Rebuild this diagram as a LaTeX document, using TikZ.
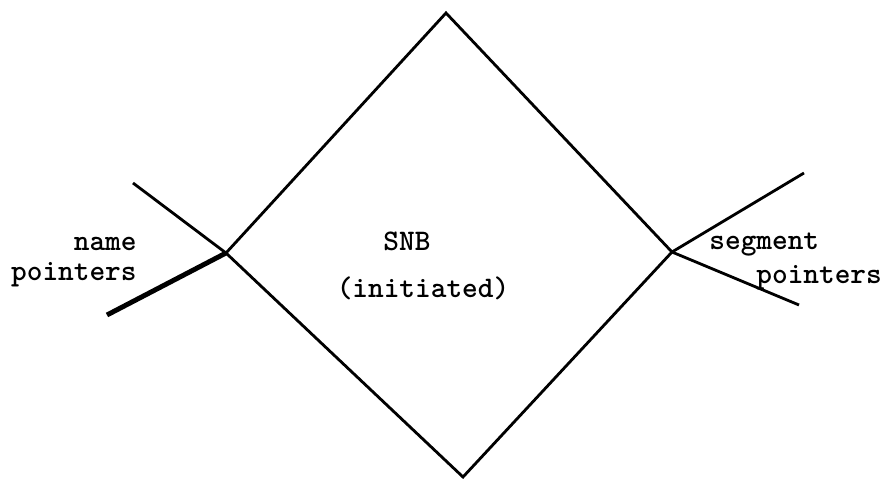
\documentclass[tikz,border=0pt]{standalone}
\begin{document}
\begin{tikzpicture}[x=0.02cm, y=-0.02cm, line width=1.6pt, every node/.style={font=\ttfamily\bfseries\fontsize{17}{19}\selectfont, inner sep=0pt}]
  \useasboundingbox (0,0) rectangle (887,480);
  \coordinate (top) at (446,13);
  \coordinate (L) at (226,253);
  \coordinate (bot) at (463,477);
  \coordinate (R) at (672,252);
  \coordinate (Lup) at (133,183);
  \coordinate (Ldn) at (107,315);
  \coordinate (Rup) at (804,173);
  \coordinate (Rdn) at (799,305);
  \node[anchor=base east] (name) at (138,250) {name};
  \node[anchor=base east] (namep) at (138,280) {pointers};
  \node[anchor=base] (snb) at (407,250) {SNB};
  \node[anchor=base] (init) at (423,297) {(initiated)};
  \node[anchor=base west] (seg) at (708,249) {segment};
  \node[anchor=base west] (segp) at (755,283) {pointers};
  \draw[line join=miter] (top) -- (L) -- (bot) -- (R) -- cycle;
  \draw (L) -- (Lup);
  \draw[line width=2.8pt] (L) -- (Ldn);
  \draw (R) -- (Rup);
  \draw (R) -- (Rdn);
\end{tikzpicture}
\end{document}
